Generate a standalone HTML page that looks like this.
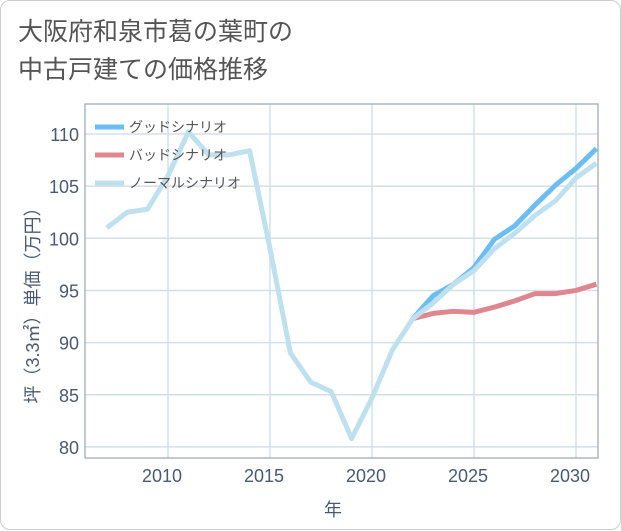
<!DOCTYPE html>
<html><head><meta charset="utf-8"><style>
body{margin:0;background:#fff;font-family:"Liberation Sans","Noto Sans CJK JP",sans-serif;}
#card{position:absolute;left:0;top:0;width:619px;height:528px;border:1px solid #ccc;border-radius:10px;background:#fff;}
#title{position:absolute;left:17px;top:12px;font-size:25px;line-height:38px;color:#555;}
</style></head><body>
<div id="card">
<div id="title">大阪府和泉市葛の葉町の<br>中古戸建ての価格推移</div>
<svg id="chart" width="621" height="530" style="position:absolute;left:0;top:0"></svg>
</div>
<script>
const years=[2007,2008,2009,2010,2011,2012,2013,2014,2015,2016,2017,2018,2019,2020,2021,2022,2023,2024,2025,2026,2027,2028,2029,2030,2031];
const normal=[101,102.5,102.8,106,110.2,108,108,108.4,99,89,86.2,85.3,80.8,84.7,89.3,92.3,93.8,95.6,96.9,99,100.5,102.2,103.6,105.8,107.2];
const futureYears=[2022,2023,2024,2025,2026,2027,2028,2029,2030,2031];
const good=[92.3,94.5,95.6,97.2,99.9,101.2,103.2,105.1,106.7,108.6];
const bad=[92.3,92.8,93.0,92.9,93.4,94.0,94.7,94.7,95.0,95.6];
const xTicks=[2010,2015,2020,2025,2030];
const yTicks=[80,85,90,95,100,105,110];
const L=84,R=597,T=103,B=457;
const x=v=>167+(v-2010)*20.4;
const y=v=>237.3-(v-100)*10.43;
const svg=document.getElementById('chart');
const NS='http://www.w3.org/2000/svg';
function mk(tag,attrs,parent){const e=document.createElementNS(NS,tag);for(const k in attrs)e.setAttribute(k,attrs[k]);(parent||svg).appendChild(e);return e;}
const defs=mk('defs',{});const cp=mk('clipPath',{id:'clip'},defs);mk('rect',{x:L,y:T,width:R-L,height:B-T},cp);
yTicks.forEach(v=>{const l=mk('line',{x1:L,x2:R,y1:y(v),y2:y(v),stroke:'#d5dfe8','stroke-width':1.5});

const t=mk('text',{x:L-6,y:y(v)+7,'text-anchor':'end','font-size':18,fill:'#4a5a70'});t.textContent=v;
});
xTicks.forEach(v=>{const l=mk('line',{x1:x(v),x2:x(v),y1:T,y2:B,stroke:'#d0e2ee','stroke-width':1.5});

const t=mk('text',{x:x(v)-6,y:B+24,'text-anchor':'middle','font-size':18,fill:'#4a5a70'});t.textContent=v;
});
const fr=mk('rect',{x:L,y:T,width:R-L,height:B-T,fill:'none',stroke:'#9aa5b0','stroke-width':1.2});

const g=mk('g',{'clip-path':'url(#clip)'});
function line(xs,vs,color,name){const p=mk('polyline',{points:xs.map((yr,i)=>x(yr)+','+y(vs[i])).join(' '),fill:'none',stroke:color,'stroke-width':5,'stroke-linejoin':'round'},g);
}
line(futureYears,bad,'#e0868f','bad-scenario-line');
line(futureYears,good,'#6bbdf2','good-scenario-line');
line(years,normal,'#bfe0ef','normal-scenario-line');
const leg=[['グッドシナリオ','#6bbdf2',126],['バッドシナリオ','#e0868f',154],['ノーマルシナリオ','#bfe0ef',182]];
leg.forEach(([n,c,yy])=>{const l=mk('line',{x1:94,x2:123,y1:yy,y2:yy,stroke:c,'stroke-width':5});

const t=mk('text',{x:128,y:yy+5,'font-size':14,fill:'#555'});t.textContent=n;
});
const yt=mk('text',{transform:'translate(38,300) rotate(-90)','text-anchor':'middle','font-size':18,fill:'#4a5a70'});yt.textContent='坪（3.3㎡）単価（万円）';

const xt=mk('text',{x:332,y:515,'text-anchor':'middle','font-size':18,fill:'#4a5a70'});xt.textContent='年';

</script>
</body></html>
